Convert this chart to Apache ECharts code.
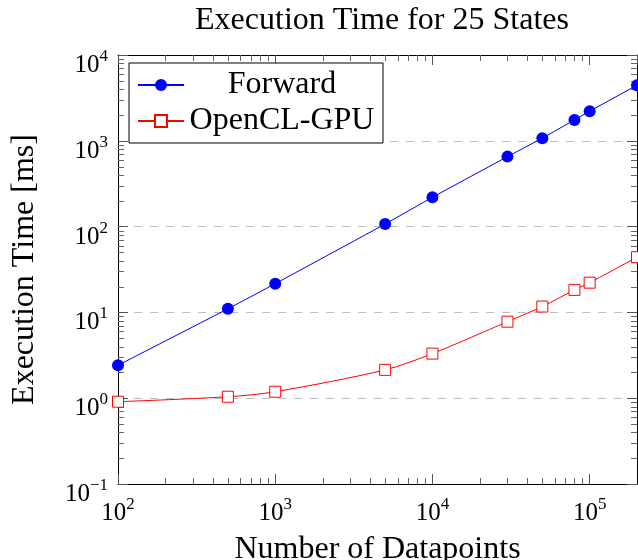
<!DOCTYPE html>
<html>
<head>
<meta charset="utf-8">
<script src="https://cdn.jsdelivr.net/npm/echarts@6/dist/echarts.min.js"></script>
<style>
  html, body { margin: 0; padding: 0; background: #fff; }
  #chart { width: 638px; height: 560px; }
</style>
</head>
<body>
<div id="chart"></div>
<script>
// data
var datapoints = [100, 500, 1000, 5000, 10000, 30000, 50000, 80000, 100000, 200000];
var forwardMs  = [2.42, 11.0, 21.6, 107, 220, 654, 1072, 1753, 2213, 4446];
var openclMs   = [0.91, 1.04, 1.19, 2.14, 3.31, 7.8, 11.7, 18.3, 22.2, 44];
var xDecades = [100, 1000, 10000, 100000];
var yDecades = [0.1, 1, 10, 100, 1000];
var minorFactors = [2, 3, 4, 5, 6, 7, 8, 9];

var X_MIN = 100, X_MAX = 200000, Y_MIN = 0.1, Y_MAX = 10000;
var FONT = '"Liberation Serif", "DejaVu Serif", serif';
var TEXT_SIZE = 32;

function zip(xs, ys) {
  return xs.map(function (x, i) { return [x, ys[i]]; });
}

// minor tick values (2..9 per decade) inside the axis range
var xMinor = [];
xDecades.forEach(function (d) {
  minorFactors.forEach(function (f) { if (d * f < X_MAX) xMinor.push([d * f, Y_MIN]); });
});
var yMinor = [];
yDecades.forEach(function (d) {
  minorFactors.forEach(function (f) { if (d * f < Y_MAX) yMinor.push([X_MIN, d * f]); });
});

// label like 10^n
function powLabel(v) {
  var e = Math.round(Math.log10(v));
  if (Math.abs(Math.log10(v) - e) > 1e-6) return '';
  var s = e < 0 ? '\u2212' + (-e) : '' + e;
  return '{n|10}{sup|' + s + '}';
}
var labelRich = {
  n:   { fontFamily: FONT, fontSize: 25, color: '#000', lineHeight: 30, verticalAlign: 'bottom' },
  sup: { fontFamily: FONT, fontSize: 17, color: '#000', lineHeight: 17, verticalAlign: 'top' }
};

function tickSeries(data, isX) {
  return {
    type: 'custom',
    silent: true,
    clip: false,
    z: 5,
    data: data,
    renderItem: function (params, api) {
      var cs = params.coordSys;
      var p = api.coord([api.value(0), api.value(1)]);
      var len = 6, style = { stroke: '#666', lineWidth: 1 };
      var lines;
      if (isX) {
        var bx = Math.round(p[0]) + 0.5, yb = cs.y + cs.height, yt = cs.y;
        lines = [[bx, yb, bx, yb - len], [bx, yt, bx, yt + len]];
      } else {
        var by = Math.round(p[1]) + 0.5, xl = cs.x, xr = cs.x + cs.width;
        lines = [[xl, by, xl + len, by], [xr, by, xr - len, by]];
      }
      return {
        type: 'group',
        children: lines.map(function (l) {
          return { type: 'line', shape: { x1: l[0], y1: l[1], x2: l[2], y2: l[3] }, style: style };
        })
      };
    }
  };
}

var chart = echarts.init(document.getElementById('chart'), null, { renderer: 'canvas' });

var majorTick = { show: true, inside: true, length: 10, lineStyle: { color: '#555', width: 1 } };

chart.setOption({
  animation: false,
  backgroundColor: '#fff',
  title: {
    text: 'Execution Time for 25 States',
    left: 377, top: 0, textAlign: 'center',
    textStyle: { fontFamily: FONT, fontSize: TEXT_SIZE, fontWeight: 'normal', color: '#000' }
  },
  grid: { left: 118, top: 55, right: 1, bottom: 76, containLabel: false, outerBoundsMode: 'none' },
  legend: {
    data: ['Forward', 'OpenCL-GPU'],
    orient: 'vertical',
    left: 129, top: 63,
    padding: [6, 8, 6, 8],
    itemWidth: 46, itemHeight: 15,
    itemGap: 4,
    backgroundColor: '#fff',
    borderColor: '#000', borderWidth: 1, borderRadius: 0,
    formatter: function (name) { return '{t|' + name + '}'; },
    textStyle: {
      fontFamily: FONT, fontSize: TEXT_SIZE, color: '#000',
      rich: { t: { fontFamily: FONT, fontSize: TEXT_SIZE, lineHeight: 32, width: 186, align: 'center' } }
    }
  },
  xAxis: [{
    type: 'log', logBase: 10, min: X_MIN, max: X_MAX,
    name: 'Number of Datapoints', nameLocation: 'middle', nameGap: 50,
    nameTextStyle: { fontFamily: FONT, fontSize: TEXT_SIZE, color: '#000' },
    axisLine: { show: true, lineStyle: { color: '#000', width: 1 } },
    axisTick: majorTick,
    axisLabel: { margin: 12, formatter: powLabel, rich: labelRich, showMaxLabel: false },
    splitLine: { show: false }, minorTick: { show: false }
  }, {
    type: 'log', logBase: 10, min: X_MIN, max: X_MAX, position: 'top',
    axisLine: { show: true, lineStyle: { color: '#000', width: 1 } },
    axisTick: majorTick, axisLabel: { show: false }, splitLine: { show: false }
  }],
  yAxis: [{
    type: 'log', logBase: 10, min: Y_MIN, max: Y_MAX,
    name: 'Execution Time [ms]', nameLocation: 'middle', nameGap: 77,
    nameTextStyle: { fontFamily: FONT, fontSize: TEXT_SIZE, color: '#000' },
    axisLine: { show: true, lineStyle: { color: '#000', width: 1 } },
    axisTick: majorTick,
    axisLabel: { margin: 10, formatter: powLabel, rich: labelRich, padding: [16, 0, 0, 0] },
    splitLine: {
      show: true, showMinLine: false, showMaxLine: false,
      lineStyle: { color: '#bbb', type: [8, 8], width: 1 }
    },
    minorTick: { show: false }
  }, {
    type: 'log', logBase: 10, min: Y_MIN, max: Y_MAX, position: 'right',
    axisLine: { show: true, lineStyle: { color: '#000', width: 1 } },
    axisTick: majorTick, axisLabel: { show: false }, splitLine: { show: false }
  }],
  series: [
    {
      name: 'Forward', type: 'line', data: zip(datapoints, forwardMs),
      symbol: 'circle', symbolSize: 12,
      lineStyle: { color: '#0000ff', width: 1 },
      itemStyle: { color: '#0000ff' },
      z: 10
    },
    {
      name: 'OpenCL-GPU', type: 'line', data: zip(datapoints, openclMs),
      symbol: 'rect', symbolSize: 11, smooth: 0.3,
      lineStyle: { color: '#ff0000', width: 1 },
      itemStyle: { color: '#fff', borderColor: '#ff0000', borderWidth: 1 },
      z: 10
    },
    tickSeries(xMinor, true),
    tickSeries(yMinor, false)
  ]
});
</script>
</body>
</html>
